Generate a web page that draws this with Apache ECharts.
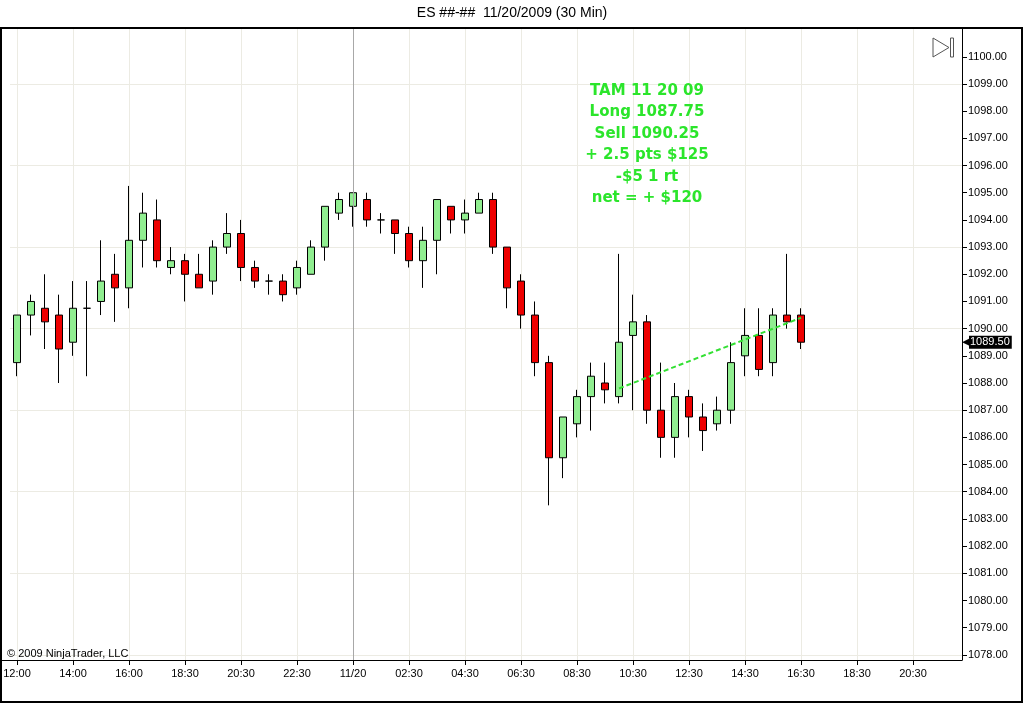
<!DOCTYPE html>
<html lang="en" style="background: #fff;height: 100%">
<head>
    <meta charset="utf-8"/>
    <title>ES 11/20/2009 (30 Min)</title>
    <script type="text/javascript" src="https://cdn.jsdelivr.net/npm/echarts@6.0.0/dist/echarts.min.js"></script>
</head>
<body style="margin: 0;height: 100%">
<div id="chart" style="width: 1024px;height: 704px"></div>
<script>
    // 30 min bars, one value per bar (open / high / low / close)
    const opens = [1088.75, 1090.5, 1090.75, 1090.5, 1089.5, 1090.75, 1091, 1092, 1091.5, 1093.25,
        1094, 1092.25, 1092.5, 1092, 1091.75, 1093, 1093.5, 1092.25, 1091.75, 1091.75,
        1091.5, 1092, 1093, 1094.25, 1094.5, 1094.75, 1094, 1094, 1093.5, 1092.5,
        1093.25, 1094.5, 1094, 1094.25, 1094.75, 1093, 1091.75, 1090.5, 1088.75, 1085.25,
        1086.5, 1087.5, 1088, 1087.5, 1089.75, 1090.25, 1087, 1086, 1087.5, 1086.75,
        1086.5, 1087, 1089, 1089.75, 1088.75, 1090.5, 1090.5];
    const highs = [1090.5, 1091.25, 1092, 1091.25, 1091.75, 1091.75, 1093.25, 1092.75, 1095.25, 1095,
        1094.75, 1093, 1092.75, 1092.75, 1093.25, 1094.25, 1094, 1092.5, 1092, 1092,
        1092.5, 1093.25, 1094.5, 1095, 1095, 1095, 1094.25, 1094, 1093.75, 1093.75,
        1094.75, 1094.5, 1094.75, 1095, 1095, 1093, 1092, 1091, 1089, 1086.75,
        1087.75, 1088.75, 1088.75, 1092.75, 1091.25, 1090.5, 1088.75, 1088, 1087.75, 1087.25,
        1087.5, 1089.5, 1090.75, 1090.75, 1090.75, 1092.75, 1090.75];
    const lows = [1088.25, 1089.75, 1089.25, 1088, 1089, 1088.25, 1090.5, 1090.25, 1090.75, 1092.25,
        1092.25, 1092, 1091, 1091.5, 1091.25, 1092.75, 1091.75, 1091.5, 1091.25, 1091,
        1091.25, 1092, 1092.5, 1094, 1093.75, 1093.75, 1093.5, 1092.75, 1092.25, 1091.5,
        1092, 1093.5, 1093.5, 1094.25, 1092.75, 1090.75, 1090, 1088.25, 1083.5, 1084.5,
        1086, 1086.25, 1087.25, 1087.25, 1087, 1086.5, 1085.25, 1085.25, 1086, 1085.5,
        1086.25, 1086.5, 1088.25, 1088.25, 1088.25, 1090, 1089.25];
    const closes = [1090.5, 1091, 1090.25, 1089.25, 1090.75, 1090.75, 1091.75, 1091.5, 1093.25, 1094.25,
        1092.5, 1092.5, 1092, 1091.5, 1093, 1093.5, 1092.25, 1091.75, 1091.75, 1091.25,
        1092.25, 1093, 1094.5, 1094.75, 1095, 1094, 1094, 1093.5, 1092.5, 1093.25,
        1094.75, 1094, 1094.25, 1094.75, 1093, 1091.5, 1090.5, 1088.75, 1085.25, 1086.75,
        1087.5, 1088.25, 1087.75, 1089.5, 1090.25, 1087, 1086, 1087.5, 1086.75, 1086.25,
        1087, 1088.75, 1089.75, 1088.5, 1090.5, 1090.25, 1089.5];

    // time axis: a label every 4 bars, 68 slots in the visible range
    const timeLabels = ['12:00', '14:00', '16:00', '18:30', '20:30', '22:30', '11/20', '02:30', '04:30',
        '06:30', '08:30', '10:30', '12:30', '14:30', '16:30', '18:30', '20:30'];
    const slotCount = 68;
    const daySplit = '11/20';

    // price axis
    const priceTicks = [1078, 1079, 1080, 1081, 1082, 1083, 1084, 1085, 1086, 1087, 1088,
        1089, 1090, 1091, 1092, 1093, 1094, 1095, 1096, 1097, 1098, 1099, 1100];
    const priceGrid = [1078, 1081, 1084, 1087, 1090, 1093, 1096, 1099];

    // trade line drawn on the chart (bar index, price)
    const tradeLine = [[43, 1087.8], [56, 1090.4]];

    const titleText = 'ES ##-##  11/20/2009 (30 Min)';
    const noteLines = ['TAM 11 20 09', 'Long 1087.75', 'Sell 1090.25', '+ 2.5 pts $125', '-$5 1 rt', 'net = + $120'];

    window.onload = function () {
        const FONT = 'Liberation Sans';
        const NOTE_GREEN = '#2be52b';

        let categories = [];
        for (let i = 0; i < slotCount; i++) {
            categories.push(i % 4 === 0 && timeLabels[i / 4] ? timeLabels[i / 4] : '');
        }

        // echarts wants [open, close, low, high]
        let candles = opens.map(function (o, i) {
            return [o, closes[i], lows[i], highs[i]];
        });
        let lastClose = closes[closes.length - 1];

        let chart = echarts.init(document.getElementById('chart'));
        chart.setOption({
            animation: false,
            backgroundColor: '#fff',
            title: {
                text: titleText,
                left: 'center',
                top: 6,
                padding: 0,
                textStyle: {fontFamily: FONT, fontSize: 14, fontWeight: 'normal', color: '#000'}
            },
            grid: {left: 10, right: 62, top: 28, bottom: 44},
            xAxis: {
                type: 'category',
                data: categories,
                boundaryGap: true,
                axisLine: {lineStyle: {color: '#000', width: 1}},
                axisTick: {show: true, interval: 3, alignWithLabel: true, length: 5, lineStyle: {color: '#000'}},
                axisLabel: {interval: 3, color: '#000', fontFamily: FONT, fontSize: 11, margin: 8},
                splitLine: {show: true, interval: 3, alignWithLabel: true, lineStyle: {color: '#ecebe3', width: 1}}
            },
            yAxis: [{
                type: 'value',
                position: 'right',
                min: 1077.81,
                max: 1101.06,
                axisLine: {show: true, lineStyle: {color: '#000', width: 1}},
                axisTick: {show: true, length: 5, customValues: priceTicks, lineStyle: {color: '#000'}},
                axisLabel: {
                    customValues: priceTicks, color: '#000', fontFamily: FONT, fontSize: 11, margin: 6,
                    formatter: function (v) { return v.toFixed(2); }
                },
                splitLine: {show: false}
            }, {
                type: 'value',
                position: 'right',
                min: 1077.81,
                max: 1101.06,
                axisLine: {show: false},
                axisTick: {show: false, customValues: priceGrid},
                axisLabel: {show: false, customValues: priceGrid},
                splitLine: {show: true, lineStyle: {color: '#ecebe3', width: 1}}
            }],
            series: [{
                type: 'candlestick',
                data: candles,
                barWidth: 7,
                itemStyle: {
                    color: '#90ee90',
                    color0: '#ee0000',
                    borderColor: '#000',
                    borderColor0: '#000',
                    borderColorDoji: '#000',
                    borderWidth: 1
                },
                markLine: {
                    silent: true,
                    symbol: ['none', 'none'],
                    data: [
                        {xAxis: daySplit, lineStyle: {color: '#a8a8a8', width: 1, type: 'solid'}, label: {show: false}},
                        {
                            yAxis: lastClose,
                            lineStyle: {color: 'rgba(0,0,0,0)', width: 0},
                            label: {
                                show: true,
                                position: 'end',
                                distance: 0,
                                formatter: '{a|◀}{b|' + lastClose.toFixed(2) + '}',
                                rich: {
                                    a: {color: '#000', fontSize: 11, fontFamily: 'DejaVu Sans', lineHeight: 13, width: 7},
                                    b: {
                                        backgroundColor: '#000', color: '#fff', fontFamily: FONT, fontSize: 11,
                                        lineHeight: 13, height: 13, padding: [0, 2, 0, 1]
                                    }
                                }
                            }
                        }
                    ]
                }
            }, {
                type: 'line',
                data: tradeLine,
                symbol: 'none',
                silent: true,
                lineStyle: {color: '#33e033', width: 2, type: [5, 3]}
            }],
            graphic: [
                {
                    type: 'rect', z: 100, silent: true,
                    shape: {x: 1, y: 28, width: 1021, height: 674},
                    style: {fill: 'none', stroke: '#000', lineWidth: 2}
                },
                {
                    type: 'line', z: 100, silent: true,
                    shape: {x1: 0, y1: 660.5, x2: 962, y2: 660.5},
                    style: {stroke: '#000', lineWidth: 1}
                },
                {
                    // "go to last bar" button
                    type: 'polygon', z: 100, silent: true,
                    shape: {points: [[933, 38], [949, 47.5], [933, 57]]},
                    style: {fill: 'none', stroke: '#555', lineWidth: 1}
                },
                {
                    type: 'rect', z: 100, silent: true,
                    shape: {x: 950.5, y: 38, width: 3, height: 19},
                    style: {fill: 'none', stroke: '#555', lineWidth: 1}
                },
                {
                    type: 'text', z: 100, silent: true,
                    left: 7, top: 648,
                    style: {text: '© 2009 NinjaTrader, LLC', fill: '#000', font: '11px "Liberation Sans"'}
                },
                {
                    type: 'text', z: 100, silent: true,
                    x: 647, y: 80,
                    style: {
                        text: noteLines.join('\n'),
                        fill: NOTE_GREEN,
                        font: 'bold 15px "DejaVu Sans"',
                        lineHeight: 21.5,
                        align: 'center',
                        verticalAlign: 'top'
                    }
                }
            ]
        });
    }
</script>
</body>
</html>
